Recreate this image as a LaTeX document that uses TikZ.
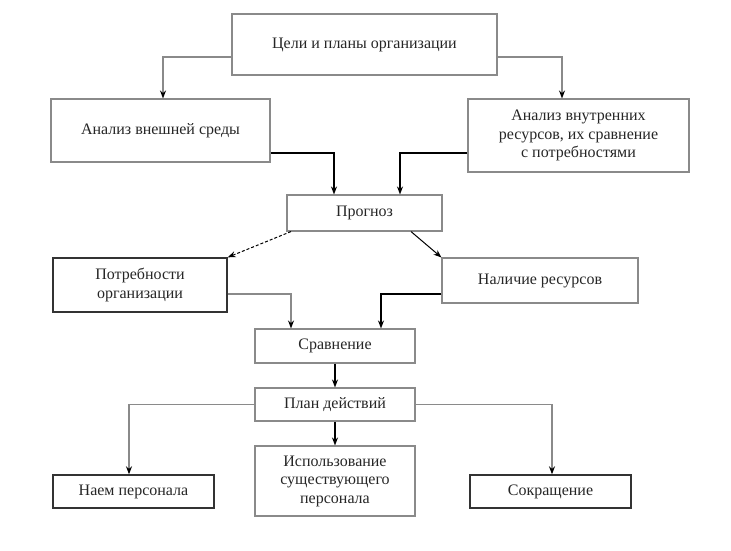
\documentclass[tikz,border=0pt]{standalone}
\usepackage{fontspec}
\setmainfont{Liberation Serif}
\usetikzlibrary{arrows.meta,calc}
\definecolor{lgray}{HTML}{8A8A8A}
\begin{document}
\begin{tikzpicture}[x=1pt,y=-1pt,
  box/.style={draw=lgray,line width=1.1pt,fill=white,inner sep=2pt,align=center,font=\fontsize{16}{18.5}\selectfont,text=black!85},
  dbox/.style={box,draw=black!80,line width=1.4pt},
  thin/.style={draw=lgray,line width=1.1pt,-{Stealth[length=8pt,width=6pt,color=black]}},
  thick/.style={draw=black,line width=1.5pt,-{Stealth[length=8pt,width=6pt]}}]
\useasboundingbox[fill=white] (0,0) rectangle (731,550);
\node[box,minimum width=265pt,minimum height=61pt] (top) at (364.5,44.5) {Цели и планы организации};
\node[box,minimum width=219pt,minimum height=63pt] (ext) at (160.5,130.5) {Анализ внешней среды};
\node[box,minimum width=221pt,minimum height=73pt] (int) at (578.5,135.5) {Анализ внутренних\\ресурсов, их сравнение\\с потребностями};
\node[box,minimum width=155pt,minimum height=36pt] (prog) at (364.5,213) {Прогноз};
\node[dbox,minimum width=174pt,minimum height=54pt] (need) at (140,285) {Потребности\\организации};
\node[box,minimum width=196pt,minimum height=45pt] (res) at (540,280.5) {Наличие ресурсов};
\node[box,minimum width=160pt,minimum height=34pt] (cmp) at (335,346) {Сравнение};
\node[box,minimum width=160pt,minimum height=33pt] (plan) at (335,404.5) {План действий};
\node[dbox,minimum width=161pt,minimum height=33pt] (hire) at (133.5,491.5) {Наем персонала};
\node[box,minimum width=160pt,minimum height=70pt] (use) at (335,481) {Использование\\существующего\\персонала};
\node[dbox,minimum width=161pt,minimum height=33pt] (cut) at (550.5,491.5) {Сокращение};
% connectors
\draw[thin] (top.west |- 0,57) -| (163,0 |- ext.north);
\draw[thin] (top.east |- 0,57) -| (562,0 |- int.north);
\draw[thick] (ext.east |- 0,153) -| (334,0 |- prog.north);
\draw[thick] (int.west |- 0,153) -| (400,0 |- prog.north);
\draw[thick,line width=1pt,densely dashed] (291,0 |- prog.south) -- (need.north east);
\draw[thick,line width=1pt] (411,0 |- prog.south) -- (res.north west);
\draw[thin] (need.east |- 0,294) -| (291,0 |- cmp.north);
\draw[thick] (res.west |- 0,294) -| (381,0 |- cmp.north);
\draw[thick] (cmp.south) -- (plan.north);
\draw[thick] (plan.south) -- (use.north);
\draw[thin] (plan.west) -| (129,0 |- hire.north);
\draw[thin] (plan.east) -| (552,0 |- cut.north);
\end{tikzpicture}
\end{document}
